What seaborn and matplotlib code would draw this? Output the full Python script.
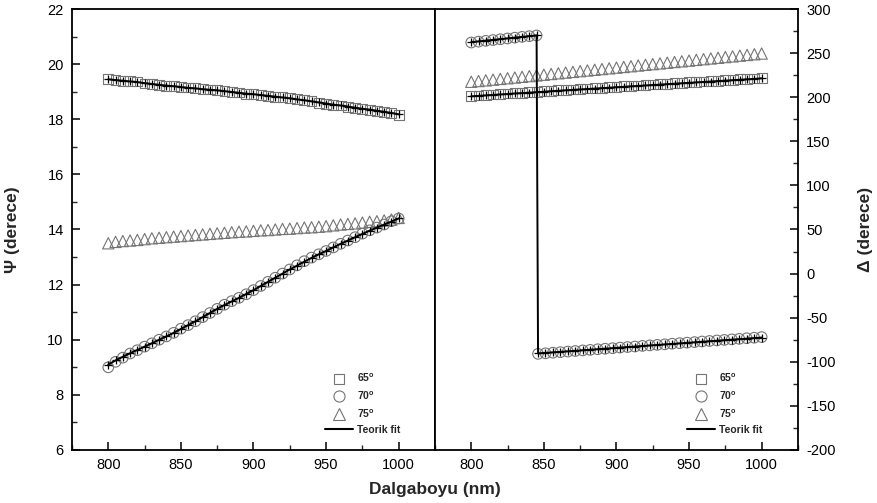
import numpy as np
import matplotlib
matplotlib.use("Agg")
import matplotlib.pyplot as plt
from matplotlib.lines import Line2D
from matplotlib.ticker import MultipleLocator
import seaborn as sns

# ---------------- data ----------------
wl = np.arange(800, 1001, 5)  # 41 wavelengths (nm)

psi_65 = [19.45, 19.43, 19.40, 19.38, 19.37, 19.30, 19.27, 19.25, 19.22, 19.20,
          19.17, 19.15, 19.12, 19.10, 19.08, 19.07, 19.02, 19.00, 18.97, 18.93,
          18.92, 18.88, 18.85, 18.82, 18.80, 18.77, 18.72, 18.70, 18.65, 18.60,
          18.55, 18.52, 18.50, 18.45, 18.42, 18.38, 18.35, 18.30, 18.27, 18.23,
          18.15]
psi_70 = [9.00, 9.20, 9.35, 9.50, 9.62, 9.75, 9.87, 10.00, 10.12, 10.25,
          10.40, 10.53, 10.67, 10.82, 10.97, 11.12, 11.27, 11.40, 11.52, 11.65,
          11.80, 11.95, 12.10, 12.25, 12.40, 12.55, 12.70, 12.85, 12.98, 13.10,
          13.22, 13.35, 13.48, 13.60, 13.72, 13.85, 13.97, 14.07, 14.18, 14.30,
          14.40]
psi_75 = [13.50, 13.55, 13.58, 13.60, 13.62, 13.65, 13.68, 13.70, 13.72, 13.74,
          13.76, 13.78, 13.80, 13.82, 13.84, 13.86, 13.88, 13.90, 13.92, 13.93,
          13.95, 13.97, 13.98, 14.00, 14.02, 14.03, 14.05, 14.07, 14.08, 14.10,
          14.12, 14.15, 14.18, 14.20, 14.22, 14.25, 14.28, 14.30, 14.33, 14.36,
          14.42]
psi_fit_65 = [19.45, 19.42, 19.40, 19.37, 19.35, 19.31, 19.28, 19.25, 19.22, 19.20,
              19.17, 19.14, 19.12, 19.09, 19.07, 19.05, 19.02, 18.99, 18.96, 18.93,
              18.91, 18.88, 18.85, 18.82, 18.79, 18.76, 18.72, 18.69, 18.65, 18.61,
              18.57, 18.53, 18.50, 18.46, 18.42, 18.38, 18.35, 18.31, 18.27, 18.23,
              18.18]
psi_fit_70 = [9.10, 9.25, 9.38, 9.51, 9.63, 9.75, 9.87, 10.00, 10.12, 10.25,
              10.39, 10.53, 10.67, 10.82, 10.97, 11.12, 11.26, 11.39, 11.52, 11.66,
              11.80, 11.95, 12.10, 12.25, 12.40, 12.55, 12.69, 12.83, 12.97, 13.10,
              13.22, 13.35, 13.48, 13.60, 13.72, 13.84, 13.96, 14.07, 14.18, 14.29,
              14.40]

delta_65 = [201.5, 202.0, 202.6, 203.1, 203.6, 204.1, 204.6, 205.2, 205.7, 206.2,
            206.7, 207.2, 207.8, 208.3, 208.8, 209.3, 209.8, 210.3, 210.8, 211.3,
            211.8, 212.3, 212.8, 213.3, 213.8, 214.3, 214.8, 215.3, 215.8, 216.3,
            216.8, 217.3, 217.8, 218.3, 218.8, 219.3, 219.8, 220.3, 220.8, 221.3,
            221.9]
delta_75 = [217.5, 218.3, 219.1, 219.9, 220.7, 221.5, 222.3, 223.1, 223.9, 224.7,
            225.5, 226.3, 227.1, 227.9, 228.7, 229.5, 230.3, 231.1, 231.9, 232.7,
            233.5, 234.3, 235.1, 235.9, 236.7, 237.5, 238.3, 239.1, 239.9, 240.7,
            241.5, 242.3, 243.1, 243.9, 244.7, 245.5, 246.3, 247.1, 247.9, 248.7,
            249.5]
wl_70_up = np.arange(800, 846, 5)          # 10 points before the jump
delta_70_up = [262.0, 263.0, 263.9, 264.8, 265.7, 266.6, 267.5, 268.4, 269.2, 270.0]
wl_70_low = np.linspace(846, 1000, 31)      # 31 points after the jump
delta_70_low = [-91.0, -90.4, -89.7, -89.1, -88.4, -87.8, -87.1, -86.5, -85.8, -85.2,
                -84.6, -83.9, -83.3, -82.7, -82.0, -81.4, -80.8, -80.2, -79.5, -78.9,
                -78.3, -77.7, -77.0, -76.4, -75.8, -75.2, -74.6, -74.0, -73.3, -72.7,
                -72.0]
delta_fit_65 = [201.0, 201.5, 202.1, 202.6, 203.1, 203.6, 204.2, 204.7, 205.2, 205.7,
                206.2, 206.8, 207.3, 207.8, 208.3, 208.8, 209.3, 209.8, 210.3, 210.8,
                211.3, 211.8, 212.3, 212.8, 213.3, 213.8, 214.3, 214.8, 215.3, 215.8,
                216.3, 216.8, 217.3, 217.8, 218.3, 218.8, 219.3, 219.8, 220.3, 220.8,
                221.4]
delta_fit_70_up = [262.5, 263.3, 264.2, 265.0, 265.9, 266.7, 267.6, 268.4, 269.3, 270.1]
delta_fit_70_low = [-90.5, -89.9, -89.3, -88.7, -88.1, -87.5, -86.9, -86.3, -85.7, -85.1,
                    -84.5, -83.9, -83.3, -82.7, -82.1, -81.5, -80.9, -80.3, -79.7, -79.1,
                    -78.5, -77.9, -77.3, -76.7, -76.1, -75.5, -74.9, -74.3, -73.7, -73.1,
                    -72.5]

legend_labels = [r'$\mathbf{65}^{\mathbf{o}}$', r'$\mathbf{70}^{\mathbf{o}}$',
                 r'$\mathbf{75}^{\mathbf{o}}$', 'Teorik fit']

# ---------------- style ----------------
sns.set_theme(style="ticks")
plt.rcParams['font.family'] = ['Liberation Sans', 'DejaVu Sans']
plt.rcParams['mathtext.fontset'] = 'custom'
plt.rcParams['mathtext.rm'] = 'Liberation Sans:bold'
plt.rcParams['mathtext.it'] = 'Liberation Sans:bold'
plt.rcParams['mathtext.bf'] = 'Liberation Sans:bold'
plt.rcParams['axes.unicode_minus'] = False

GREY = '#747474'
MS = 50

fig = plt.figure(figsize=(8.78, 5.03), dpi=100)
ax1 = fig.add_axes([0.082, 0.1054, 0.4134, 0.8767])
ax2 = fig.add_axes([0.4954, 0.1054, 0.4134, 0.8767])


def scatter(ax, x, y, marker, s=MS):
    sns.scatterplot(x=x, y=y, ax=ax, marker=marker, s=s, facecolor='none',
                    edgecolor=GREY, linewidth=0.8, legend=False, zorder=2)


def fit(ax, x, y):
    sns.lineplot(x=x, y=y, ax=ax, color='black', linewidth=1.4, marker='+',
                 markersize=6, markeredgewidth=0.9, markeredgecolor='black',
                 estimator=None, sort=False, legend=False, zorder=3)


# left panel: Psi
scatter(ax1, wl, psi_65, 's')
scatter(ax1, wl, psi_70, 'o', s=MS + 8)
scatter(ax1, wl, psi_75, '^', s=MS + 16)
fit(ax1, wl, psi_fit_65)
fit(ax1, wl, psi_fit_70)

# right panel: Delta
scatter(ax2, wl, delta_65, 's')
scatter(ax2, wl, delta_75, '^', s=MS + 16)
scatter(ax2, np.concatenate([wl_70_up, wl_70_low]), delta_70_up + delta_70_low, 'o', s=MS + 8)
fit(ax2, wl, delta_fit_65)
fit(ax2, np.concatenate([wl_70_up, wl_70_low]), delta_fit_70_up + delta_fit_70_low)

for ax in (ax1, ax2):
    ax.set_xlim(775, 1025)
    ax.xaxis.set_major_locator(MultipleLocator(50))
    ax.xaxis.set_minor_locator(MultipleLocator(25))
    ax.tick_params(which='major', direction='in', length=6, width=1.1,
                   labelsize=10.5, colors='black', pad=6)
    ax.tick_params(which='minor', direction='in', length=3.5, width=1.0)
    for sp in ax.spines.values():
        sp.set_visible(True)
        sp.set_linewidth(1.3)
        sp.set_color('black')
    ax.set_xlabel('')
    ax.set_ylabel('')

ax1.set_ylim(6, 22)
ax1.yaxis.set_major_locator(MultipleLocator(2))
ax1.yaxis.set_minor_locator(MultipleLocator(1))
ax1.tick_params(which='both', left=True, right=False, top=False, bottom=True)
ax1.set_ylabel('Ψ (derece)', fontsize=12.5, fontweight='bold')
ax1.yaxis.set_label_coords(-0.143, 0.5)

ax2.set_ylim(-200, 300)
ax2.yaxis.set_major_locator(MultipleLocator(50))
ax2.yaxis.set_minor_locator(MultipleLocator(25))
ax2.yaxis.tick_right()
ax2.yaxis.set_label_position('right')
ax2.tick_params(which='both', left=False, right=True, top=False, bottom=True)
ax2.set_ylabel('Δ (derece)', fontsize=12.5, fontweight='bold', rotation=90)
ax2.yaxis.set_label_coords(1.165, 0.5)

fig.text(0.495, 0.026, 'Dalgaboyu (nm)', ha='center', va='center',
         fontsize=12.5, fontweight='bold')


def make_handles():
    return [
        Line2D([], [], linestyle='none', marker='s', markersize=7.5, markerfacecolor='none',
               markeredgecolor=GREY, markeredgewidth=0.8),
        Line2D([], [], linestyle='none', marker='o', markersize=8, markerfacecolor='none',
               markeredgecolor=GREY, markeredgewidth=0.8),
        Line2D([], [], linestyle='none', marker='^', markersize=8.5, markerfacecolor='none',
               markeredgecolor=GREY, markeredgewidth=0.8),
        Line2D([], [], color='black', linewidth=1.5),
    ]


for ax, xa in ((ax1, 0.697), (ax2, 0.694)):
    ax.legend(make_handles(), legend_labels, loc='upper left', bbox_to_anchor=(xa, 0.177),
              frameon=False, prop={'weight': 'bold', 'size': 7.5}, handlelength=2.7,
              handletextpad=0.4, labelspacing=0.5, borderpad=0, borderaxespad=0)

fig.savefig('out.png', dpi=100)
